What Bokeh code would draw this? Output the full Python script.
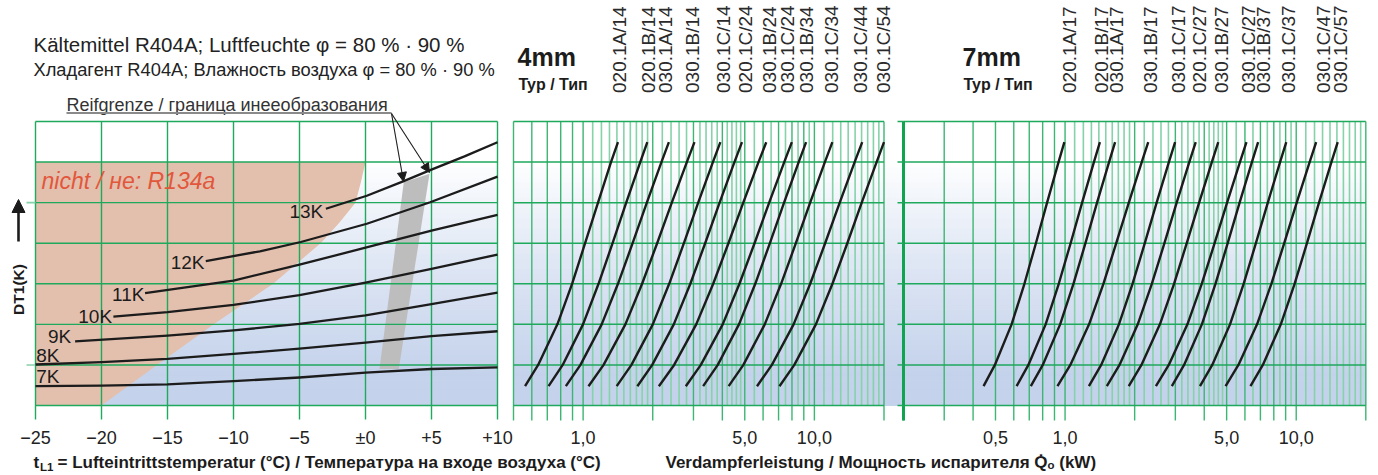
import numpy as np
from math import pi, log10
from bokeh.plotting import figure
from bokeh.models import Range1d, LogScale, Arrow, NormalHead
from bokeh.core.properties import value
from bokeh.embed import file_html
from bokeh.resources import INLINE

# ===================== data =====================
# left panel: air inlet temperature axis
TEMP_TICKS = [-25, -20, -15, -10, -5, 0, 5, 10]
TEMP_TICK_LABELS = ["\u221225", "\u221220", "\u221215", "\u221210", "\u22125", "\u00b10", "+5", "+10"]
GRID_LEVELS = [0, 1, 2, 3, 4, 5, 6, 7]
SIDE_TICK_LEVELS = [1, 5]

# DT1 curves: temperature (degC) -> chart height (grid units)
DT_NAMES = ["7K", "8K", "9K", "10K", "11K", "12K", "13K"]
DT7_T = [-25, -20, -15, -10, -5, 0, 5, 10]
DT7_U = [0.48, 0.49, 0.52, 0.60, 0.69, 0.81, 0.90, 0.94]
DT8_T = [-25, -20, -15, -10, -5, 0, 5, 10]
DT8_U = [1.01, 1.07, 1.15, 1.27, 1.40, 1.55, 1.71, 1.83]
DT9_T = [-22.0, -15, -10, -5, 0, 5, 10]
DT9_U = [1.58, 1.72, 1.85, 2.01, 2.22, 2.50, 2.78]
DT10_T = [-19.1, -15, -10, -5, 0, 5, 10]
DT10_U = [2.19, 2.30, 2.48, 2.72, 3.03, 3.37, 3.72]
DT11_T = [-16.7, -10, -5, 0, 5, 10]
DT11_U = [2.77, 3.08, 3.47, 3.89, 4.31, 4.70]
DT12_T = [-12.1, -8.0, -4.9, 0.1, 4.9, 10]
DT12_U = [3.56, 3.80, 4.03, 4.48, 5.01, 5.64]
DT13_T = [-3.0, 0.1, 2.9, 4.9, 7.5, 10]
DT13_U = [4.85, 5.17, 5.53, 5.80, 6.14, 6.49]
DT_LABEL_T = [-24.95, -24.95, -22.3, -19.2, -16.75, -12.2, -3.2]
DT_LABEL_U = [0.72, 1.23, 1.71, 2.19, 2.74, 3.53, 4.78]

# "not for R134a" region and frost limit band (temperature, grid units)
R134A_T = [-25, -25, 0, -0.35, -0.76, -2.0, -3.4, -7.0, -11.5, -15.8, -20]
R134A_U = [0, 6, 6, 5.5, 5, 4.5, 4, 3, 2, 1, 0]
FROST_T = [1.06, 2.52, 4.85, 2.9]
FROST_U = [0.9, 0.9, 5.71, 5.5]

# capacity curves: heights at which Q0 (kW) was read
CURVE_LEVELS = [0.476, 1, 2, 3, 4, 5, 6, 6.49]

# 4 mm fin pitch
MID_TYPES = ["020.1A/14", "020.1B/14", "030.1A/14", "030.1B/14", "030.1C/14", "020.1C/24",
             "030.1B/24", "030.1C/24", "030.1B/34", "030.1C/34", "030.1C/44", "030.1C/54"]
MID_TYPE_Q = [1.44, 1.91, 2.27, 2.96, 4.03, 5.03, 6.38, 7.65, 9.21, 11.89, 15.85, 19.83]
MID_Q = [
    [0.561, 0.639, 0.774, 0.896, 1.02, 1.16, 1.32, 1.415],
    [0.709, 0.816, 0.999, 1.166, 1.341, 1.536, 1.766, 1.895],
    [0.842, 0.974, 1.203, 1.415, 1.637, 1.886, 2.181, 2.349],
    [1.055, 1.226, 1.523, 1.799, 2.09, 2.418, 2.809, 3.03],
    [1.397, 1.618, 2.001, 2.356, 2.728, 3.145, 3.641, 3.922],
    [1.716, 1.99, 2.466, 2.908, 3.371, 3.892, 4.511, 4.864],
    [2.126, 2.475, 3.084, 3.652, 4.25, 4.926, 5.733, 6.192],
    [2.78, 3.229, 4.014, 4.742, 5.511, 6.376, 7.406, 7.99],
    [3.304, 3.822, 4.72, 5.551, 6.422, 7.394, 8.553, 9.21],
    [4.259, 4.932, 6.1, 7.18, 8.317, 9.587, 11.1, 11.96],
    [5.647, 6.551, 8.131, 9.594, 11.13, 12.87, 14.93, 16.1],
    [7.063, 8.19, 10.15, 11.97, 13.88, 16.02, 18.58, 20.0],
]
MID_TICKS = [0.5, 0.6, 0.7, 0.8, 0.9, 1, 2, 3, 4, 5, 6, 7, 8, 9, 10, 20]
MID_TICK_LABEL_Q = [1, 5, 10]
MID_TICK_LABELS = ["1,0", "5,0", "10,0"]

# 7 mm fin pitch
RIGHT_TYPES = ["020.1A/17", "020.1B/17", "030.1A/17", "030.1B/17", "030.1C/17", "020.1C/27",
               "030.1B/27", "030.1C/27", "030.1B/37", "030.1C/37", "030.1C/47", "030.1C/57"]
RIGHT_TYPE_Q = [1.047, 1.433, 1.663, 2.353, 3.095, 3.797, 4.742, 6.233, 7.191, 9.267, 13.11, 15.62]
RIGHT_Q = [
    [0.444, 0.497, 0.587, 0.667, 0.748, 0.836, 0.937, 0.993],
    [0.617, 0.694, 0.824, 0.939, 1.057, 1.185, 1.333, 1.415],
    [0.711, 0.801, 0.952, 1.087, 1.225, 1.375, 1.55, 1.646],
    [0.927, 1.054, 1.27, 1.465, 1.665, 1.887, 2.146, 2.29],
    [1.268, 1.433, 1.71, 1.958, 2.213, 2.49, 2.813, 2.993],
    [1.516, 1.72, 2.063, 2.373, 2.691, 3.04, 3.447, 3.675],
    [1.886, 2.14, 2.572, 2.961, 3.361, 3.802, 4.315, 4.6],
    [2.472, 2.81, 3.383, 3.902, 4.436, 5.023, 5.709, 6.092],
    [2.897, 3.273, 3.907, 4.474, 5.054, 5.69, 6.431, 6.842],
    [3.834, 4.333, 5.171, 5.923, 6.693, 7.536, 8.514, 9.057],
    [4.948, 5.623, 6.77, 7.807, 8.875, 10.05, 11.43, 12.2],
    [6.34, 7.172, 8.578, 9.84, 11.13, 12.55, 14.2, 15.12],
]
RIGHT_TICKS = [0.2, 0.3, 0.4, 0.5, 0.6, 0.7, 0.8, 0.9, 1, 2, 3, 4, 5, 6, 7, 8, 9, 10, 20]
RIGHT_TICK_LABEL_Q = [0.5, 1, 5, 10]
RIGHT_TICK_LABELS = ["0,5", "1,0", "5,0", "10,0"]

# ===================== layout =====================
W, H = 1378, 475
OFF = 0                      # canvas starts at the page corner
T0, T0_PX, PX_PER_C = -25, 35, 13.2
U0_PX, PX_PER_U = 405, 284 / 7

def X(sx):  # picture x -> left-panel data x
    return T0 + (sx - T0_PX) / PX_PER_C

def Y(sy):  # picture y -> grid units
    return (U0_PX - sy) / PX_PER_U

def log_range(q0, px0, q1, px1):
    s = (px1 - px0) / (log10(q1) - log10(q0))
    lo = 10 ** (log10(q0) - (px0 - OFF) / s)
    hi = 10 ** (log10(q0) + (OFF + W - px0) / s)
    return Range1d(lo, hi), s

mid_range, S_MID = log_range(0.5, 513, 20, 883.5)
right_range, S_RIGHT = log_range(0.2, 903, 20, 1365.3)

def QM(sx):
    return 0.5 * 10 ** ((sx - 513) / S_MID)

def QR(sx):
    return 0.2 * 10 ** ((sx - 903) / S_RIGHT)

p = figure(width=W, height=H, x_range=Range1d(X(OFF), X(OFF + W)),
           y_range=Range1d(Y(OFF + H), Y(OFF)), x_axis_type=None, y_axis_type=None,
           min_border=0, toolbar_location=None, output_backend="svg", title=None,
           outline_line_color=None, background_fill_color="white", border_fill_color="white")
p.extra_x_ranges = {"mid": mid_range, "right": right_range}
p.extra_x_scales = {"mid": LogScale(), "right": LogScale()}

FONT = value("Liberation Sans")
GRID = "#1ea95c"
GRID_LIGHT = "#86d2a9"
INK = "#1c1c1c"

# ---------- background gradient ----------
NB = 56
b0 = [7 * i / NB for i in range(NB)]
b1 = [7 * (i + 1) / NB for i in range(NB)]
cols = []
for a, b in zip(b0, b1):
    t = min(max((6.0 - (a + b) / 2) / 5.2, 0.0), 1.0) ** 0.85
    r = round(255 + (196 - 255) * t); g = round(255 + (210 - 255) * t); bl = round(255 + (235 - 255) * t)
    cols.append(f"#{r:02x}{g:02x}{bl:02x}")
p.quad(left=-25, right=10, bottom=b0, top=b1, fill_color=cols, line_color=cols, line_width=1)
p.quad(left=0.5, right=QM(905), bottom=b0, top=b1, fill_color=cols, line_color=cols,
       line_width=1, x_range_name="mid")
p.quad(left=0.2, right=20, bottom=b0, top=b1, fill_color=cols, line_color=cols,
       line_width=1, x_range_name="right")

# ---------- left panel ----------
p.patch(R134A_T, R134A_U, fill_color="#e3bfad", line_color=None)
p.patch(FROST_T, FROST_U, fill_color="#bdbdbd", line_color=None)
p.segment(x0=TEMP_TICKS, y0=Y(419), x1=TEMP_TICKS, y1=7, line_color=GRID, line_width=1.4)
p.segment(x0=-25, y0=GRID_LEVELS, x1=10, y1=GRID_LEVELS, line_color=GRID, line_width=1.4)
p.segment(x0=X(26), y0=SIDE_TICK_LEVELS, x1=-25, y1=SIDE_TICK_LEVELS, line_color=GRID_LIGHT, line_width=1.6)
p.multi_line(xs=[DT7_T, DT8_T, DT9_T, DT10_T, DT11_T, DT12_T, DT13_T],
             ys=[DT7_U, DT8_U, DT9_U, DT10_U, DT11_U, DT12_U, DT13_U],
             line_color=INK, line_width=2.3, line_join="round")
p.text(x=DT_LABEL_T[:2], y=DT_LABEL_U[:2], text=DT_NAMES[:2], text_font=FONT,
       text_font_size="19px", text_color=INK, text_align="left", text_baseline="middle")
p.text(x=DT_LABEL_T[2:], y=DT_LABEL_U[2:], text=DT_NAMES[2:], text_font=FONT,
       text_font_size="19px", text_color=INK, text_align="right", text_baseline="middle")
p.text(x=[X(41)], y=[Y(180)], text=["nicht / \u043d\u0435: R134a"], text_font=FONT,
       text_font_style="italic", text_font_size="23px", text_color="#e2573b",
       text_align="left", text_baseline="middle")

# frost limit label with arrows
p.text(x=[X(66)], y=[Y(104)], text=["Reifgrenze / \u0433\u0440\u0430\u043d\u0438\u0446\u0430 \u0438\u043d\u0435\u0435\u043e\u0431\u0440\u0430\u0437\u043e\u0432\u0430\u043d\u0438\u044f"],
       text_font=FONT, text_font_size="18px", text_color="#333333",
       text_align="left", text_baseline="middle")
p.segment(x0=X(66), y0=Y(112.5), x1=X(391), y1=Y(112.5), line_color="#8a8a8a", line_width=1.8)
for ex, ey in [(403, 181), (429, 172)]:
    p.add_layout(Arrow(end=NormalHead(size=9, fill_color=INK, line_color=INK),
                       x_start=X(391), y_start=Y(113), x_end=X(ex), y_end=Y(ey),
                       line_color=INK, line_width=1.1))

# DT1 arrow + label
p.add_layout(Arrow(end=NormalHead(size=13, fill_color=INK, line_color=INK),
                   x_start=X(18), y_start=Y(241), x_end=X(18), y_end=Y(199),
                   line_color=INK, line_width=2.6))
p.text(x=[X(18)], y=[Y(289)], text=["DT1(K)"], angle=pi / 2, text_font=FONT,
       text_font_style="bold", text_font_size="15.5px", text_color=INK,
       text_align="center", text_baseline="middle")

# temperature tick labels
p.text(x=TEMP_TICKS, y=Y(437), text=TEMP_TICK_LABELS, text_font=FONT, text_font_size="18px",
       text_color="#222222", text_align="center", text_baseline="middle")

# ---------- capacity panels ----------
def q_lines(parts):
    return sorted(set(round(float(v), 4) for v in np.concatenate(parts)))

MID_LINES = q_lines([np.arange(5, 10) / 10, np.arange(10, 20) / 10, np.arange(10, 25) / 5,
                     np.arange(10, 20) / 2, np.arange(10, 21)])
RIGHT_LINES = q_lines([np.arange(2, 10) / 10, np.arange(10, 20) / 10, np.arange(10, 25) / 5,
                       np.arange(10, 20) / 2, np.arange(10, 21)])

for name, lines, ticks, qlo, lab_q, labs, curves, types, type_q in [
        ("mid", MID_LINES, MID_TICKS, 0.5, MID_TICK_LABEL_Q, MID_TICK_LABELS, MID_Q, MID_TYPES, MID_TYPE_Q),
        ("right", RIGHT_LINES, RIGHT_TICKS, 0.2, RIGHT_TICK_LABEL_Q, RIGHT_TICK_LABELS, RIGHT_Q, RIGHT_TYPES, RIGHT_TYPE_Q)]:
    minor = [v for v in lines if not any(abs(v - t) < 1e-6 for t in ticks)]
    p.segment(x0=minor, y0=0, x1=minor, y1=7, line_color=GRID_LIGHT, line_width=1.6, x_range_name=name)
    p.segment(x0=ticks, y0=Y(420), x1=ticks, y1=7, line_color="#3db673", line_width=1.4, x_range_name=name)
    p.segment(x0=qlo, y0=GRID_LEVELS, x1=20, y1=GRID_LEVELS, line_color=GRID, line_width=1.5, x_range_name=name)
    p.multi_line(xs=curves, ys=[CURVE_LEVELS] * len(curves), line_color=INK, line_width=2.4,
                 line_join="round", x_range_name=name)
    p.text(x=lab_q, y=Y(437), text=labs, text_font=FONT, text_font_size="18px",
           text_color="#222222", text_align="center", text_baseline="middle", x_range_name=name)
    p.text(x=type_q, y=Y(92.5), text=types, angle=pi / 2, text_font=FONT, text_font_size="19px",
           text_color="#2a2a2a", text_align="left", text_baseline="middle", x_range_name=name)

# right panel: thick left axis and side ticks
p.segment(x0=0.2, y0=Y(420), x1=0.2, y1=7, line_color="#10a350", line_width=3, x_range_name="right")
p.segment(x0=QR(897), y0=GRID_LEVELS, x1=0.2, y1=GRID_LEVELS, line_color=GRID, line_width=1.5, x_range_name="right")

# ---------- headings ----------
p.text(x=[X(33)], y=[Y(44)],
       text=["K\u00e4ltemittel R404A; Luftfeuchte \u03c6 = 80 % \u00b7 90 %"],
       text_font=FONT, text_font_size="20.5px", text_color="#222222",
       text_align="left", text_baseline="middle")
p.text(x=[X(33)], y=[Y(69)],
       text=["\u0425\u043b\u0430\u0434\u0430\u0433\u0435\u043d\u0442 R404A; \u0412\u043b\u0430\u0436\u043d\u043e\u0441\u0442\u044c \u0432\u043e\u0437\u0434\u0443\u0445\u0430 \u03c6 = 80 % \u00b7 90 %"],
       text_font=FONT, text_font_size="18.3px", text_color="#222222",
       text_align="left", text_baseline="middle")
p.text(x=[X(517), X(962)], y=Y(56), text=["4mm", "7mm"], text_font=FONT, text_font_style="bold",
       text_font_size="25px", text_color=INK, text_align="left", text_baseline="middle")
p.text(x=[X(518), X(963)], y=Y(84), text=["Typ / \u0422\u0438\u043f", "Typ / \u0422\u0438\u043f"],
       text_font=FONT, text_font_style="bold", text_font_size="16px", text_color=INK,
       text_align="left", text_baseline="middle")

# axis titles
p.text(x=[X(33)], y=[Y(462)], text=["t"], text_font=FONT, text_font_style="bold",
       text_font_size="17px", text_color=INK, text_align="left", text_baseline="middle")
p.text(x=[X(39.5)], y=[Y(466)], text=["L1"], text_font=FONT, text_font_style="bold",
       text_font_size="11.5px", text_color=INK, text_align="left", text_baseline="middle")
p.text(x=[X(57)], y=[Y(462)],
       text=["= Lufteintrittstemperatur (\u00b0C) / \u0422\u0435\u043c\u043f\u0435\u0440\u0430\u0442\u0443\u0440\u0430 \u043d\u0430 \u0432\u0445\u043e\u0434\u0435 \u0432\u043e\u0437\u0434\u0443\u0445\u0430 (\u00b0C)"],
       text_font=FONT, text_font_style="bold", text_font_size="17px", text_color=INK,
       text_align="left", text_baseline="middle")
p.text(x=[X(665)], y=[Y(462)],
       text=["Verdampferleistung / \u041c\u043e\u0449\u043d\u043e\u0441\u0442\u044c  \u0438\u0441\u043f\u0430\u0440\u0438\u0442\u0435\u043b\u044f  Q\u0307\u2092 (kW)"],
       text_font=FONT, text_font_style="bold", text_font_size="17px", text_color=INK,
       text_align="left", text_baseline="middle")

open("out.html", "w").write(file_html(p, INLINE))
